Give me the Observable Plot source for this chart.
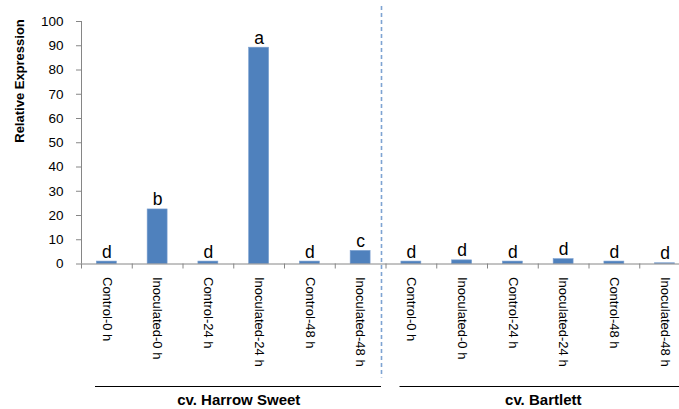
<!DOCTYPE html>
<html>
<head>
<meta charset="utf-8">
<script src="https://cdn.jsdelivr.net/npm/d3@7"></script>
<script src="https://cdn.jsdelivr.net/npm/@observablehq/plot@0.6"></script>
<style>
  html, body { margin: 0; padding: 0; background: #fff; overflow: hidden; }
  #chart { width: 679px; height: 409px; overflow: hidden; }
</style>
</head>
<body>
<div id="chart"></div>
<script>
// ---- data ----
const treatments = ["Control-0 h", "Inoculated-0 h", "Control-24 h", "Inoculated-24 h", "Control-48 h", "Inoculated-48 h"];
const cultivars = ["cv. Harrow Sweet", "cv. Bartlett"];
const harrowValues = [1.0, 22.5, 1.0, 89.2, 1.0, 5.4];
const bartlettValues = [1.0, 1.5, 1.0, 2.0, 1.0, 0.3];
const harrowLetters = ["d", "b", "d", "a", "d", "c"];
const bartlettLetters = ["d", "d", "d", "d", "d", "d"];
const yTicks = [0, 10, 20, 30, 40, 50, 60, 70, 80, 90, 100];
const yTitle = "Relative Expression";

// ---- build table ----
const rows = [];
[harrowValues, bartlettValues].forEach((vals, g) => {
  const letters = g === 0 ? harrowLetters : bartlettLetters;
  vals.forEach((v, i) => {
    const idx = g * treatments.length + i;
    rows.push({idx, label: treatments[i], value: v, letter: letters[i], group: cultivars[g]});
  });
});
const groups = cultivars.map((name, g) => ({name, from: g * treatments.length, to: (g + 1) * treatments.length}));
const boundaries = d3.range(0, rows.length + 1);

const blue = "#4f81bd";
const axisGray = "#868686";

const chart = Plot.plot({
  width: 679,
  height: 409,
  marginLeft: 81,
  marginRight: -11,
  marginTop: 21,
  marginBottom: 145.5,
  style: {fontFamily: "'Liberation Sans', Arial, sans-serif", background: "white", overflow: "visible"},
  x: {type: "linear", domain: [0, rows.length], axis: null},
  y: {domain: [0, 100], axis: null},
  marks: [
    // bars
    Plot.rectY(rows, {x1: "idx", x2: d => d.idx + 1, y: "value", fill: blue, stroke: "#7a9fcf", strokeWidth: 0.6, insetLeft: 15.4, insetRight: 15.4}),
    // significance letters
    Plot.text(rows, {x: d => d.idx + 0.5, y: "value", text: "letter", lineAnchor: "bottom", dy: -4, fontSize: 17.5, fill: "black"}),
    // y axis line + ticks
    Plot.ruleX([0], {y1: 0, y2: 100, stroke: axisGray}),
    Plot.axisY(yTicks, {label: null, tickSize: 5, tickPadding: 13, fontSize: 13.5, stroke: axisGray}),
    // x axis line + boundary ticks
    Plot.ruleY([0], {stroke: axisGray}),
    Plot.axisX(boundaries, {label: null, tickSize: 5, tickFormat: () => "", stroke: axisGray}),
    // category labels
    Plot.text(rows, {x: d => d.idx + 0.5, y: 0, text: "label", rotate: 90, textAnchor: "start", lineAnchor: "middle", dy: 13, fontSize: 13, fill: "black"}),
    // y title
    Plot.text([yTitle], {frameAnchor: "left", rotate: -90, dx: -62, fontSize: 13, fontWeight: "bold", fill: "black"}),
    // dashed separator
    Plot.ruleX([groups[1].from], {dx: -4.5, insetTop: -15, insetBottom: -114, stroke: "#7ea3d2", strokeWidth: 1.6, strokeDasharray: "4,3"}),
    // group lines and labels
    Plot.ruleY(groups, {y: 0, x1: "from", x2: "to", dy: 122.5, insetLeft: 14, insetRight: 4.5, stroke: "black", strokeWidth: 1}),
    Plot.text(groups, {x: d => (d.from + d.to) / 2, y: 0, text: "name", dy: 136.5, dx: 5, fontSize: 15, fontWeight: "bold", fill: "black"})
  ]
});
document.getElementById("chart").appendChild(chart);
</script>
</body>
</html>
